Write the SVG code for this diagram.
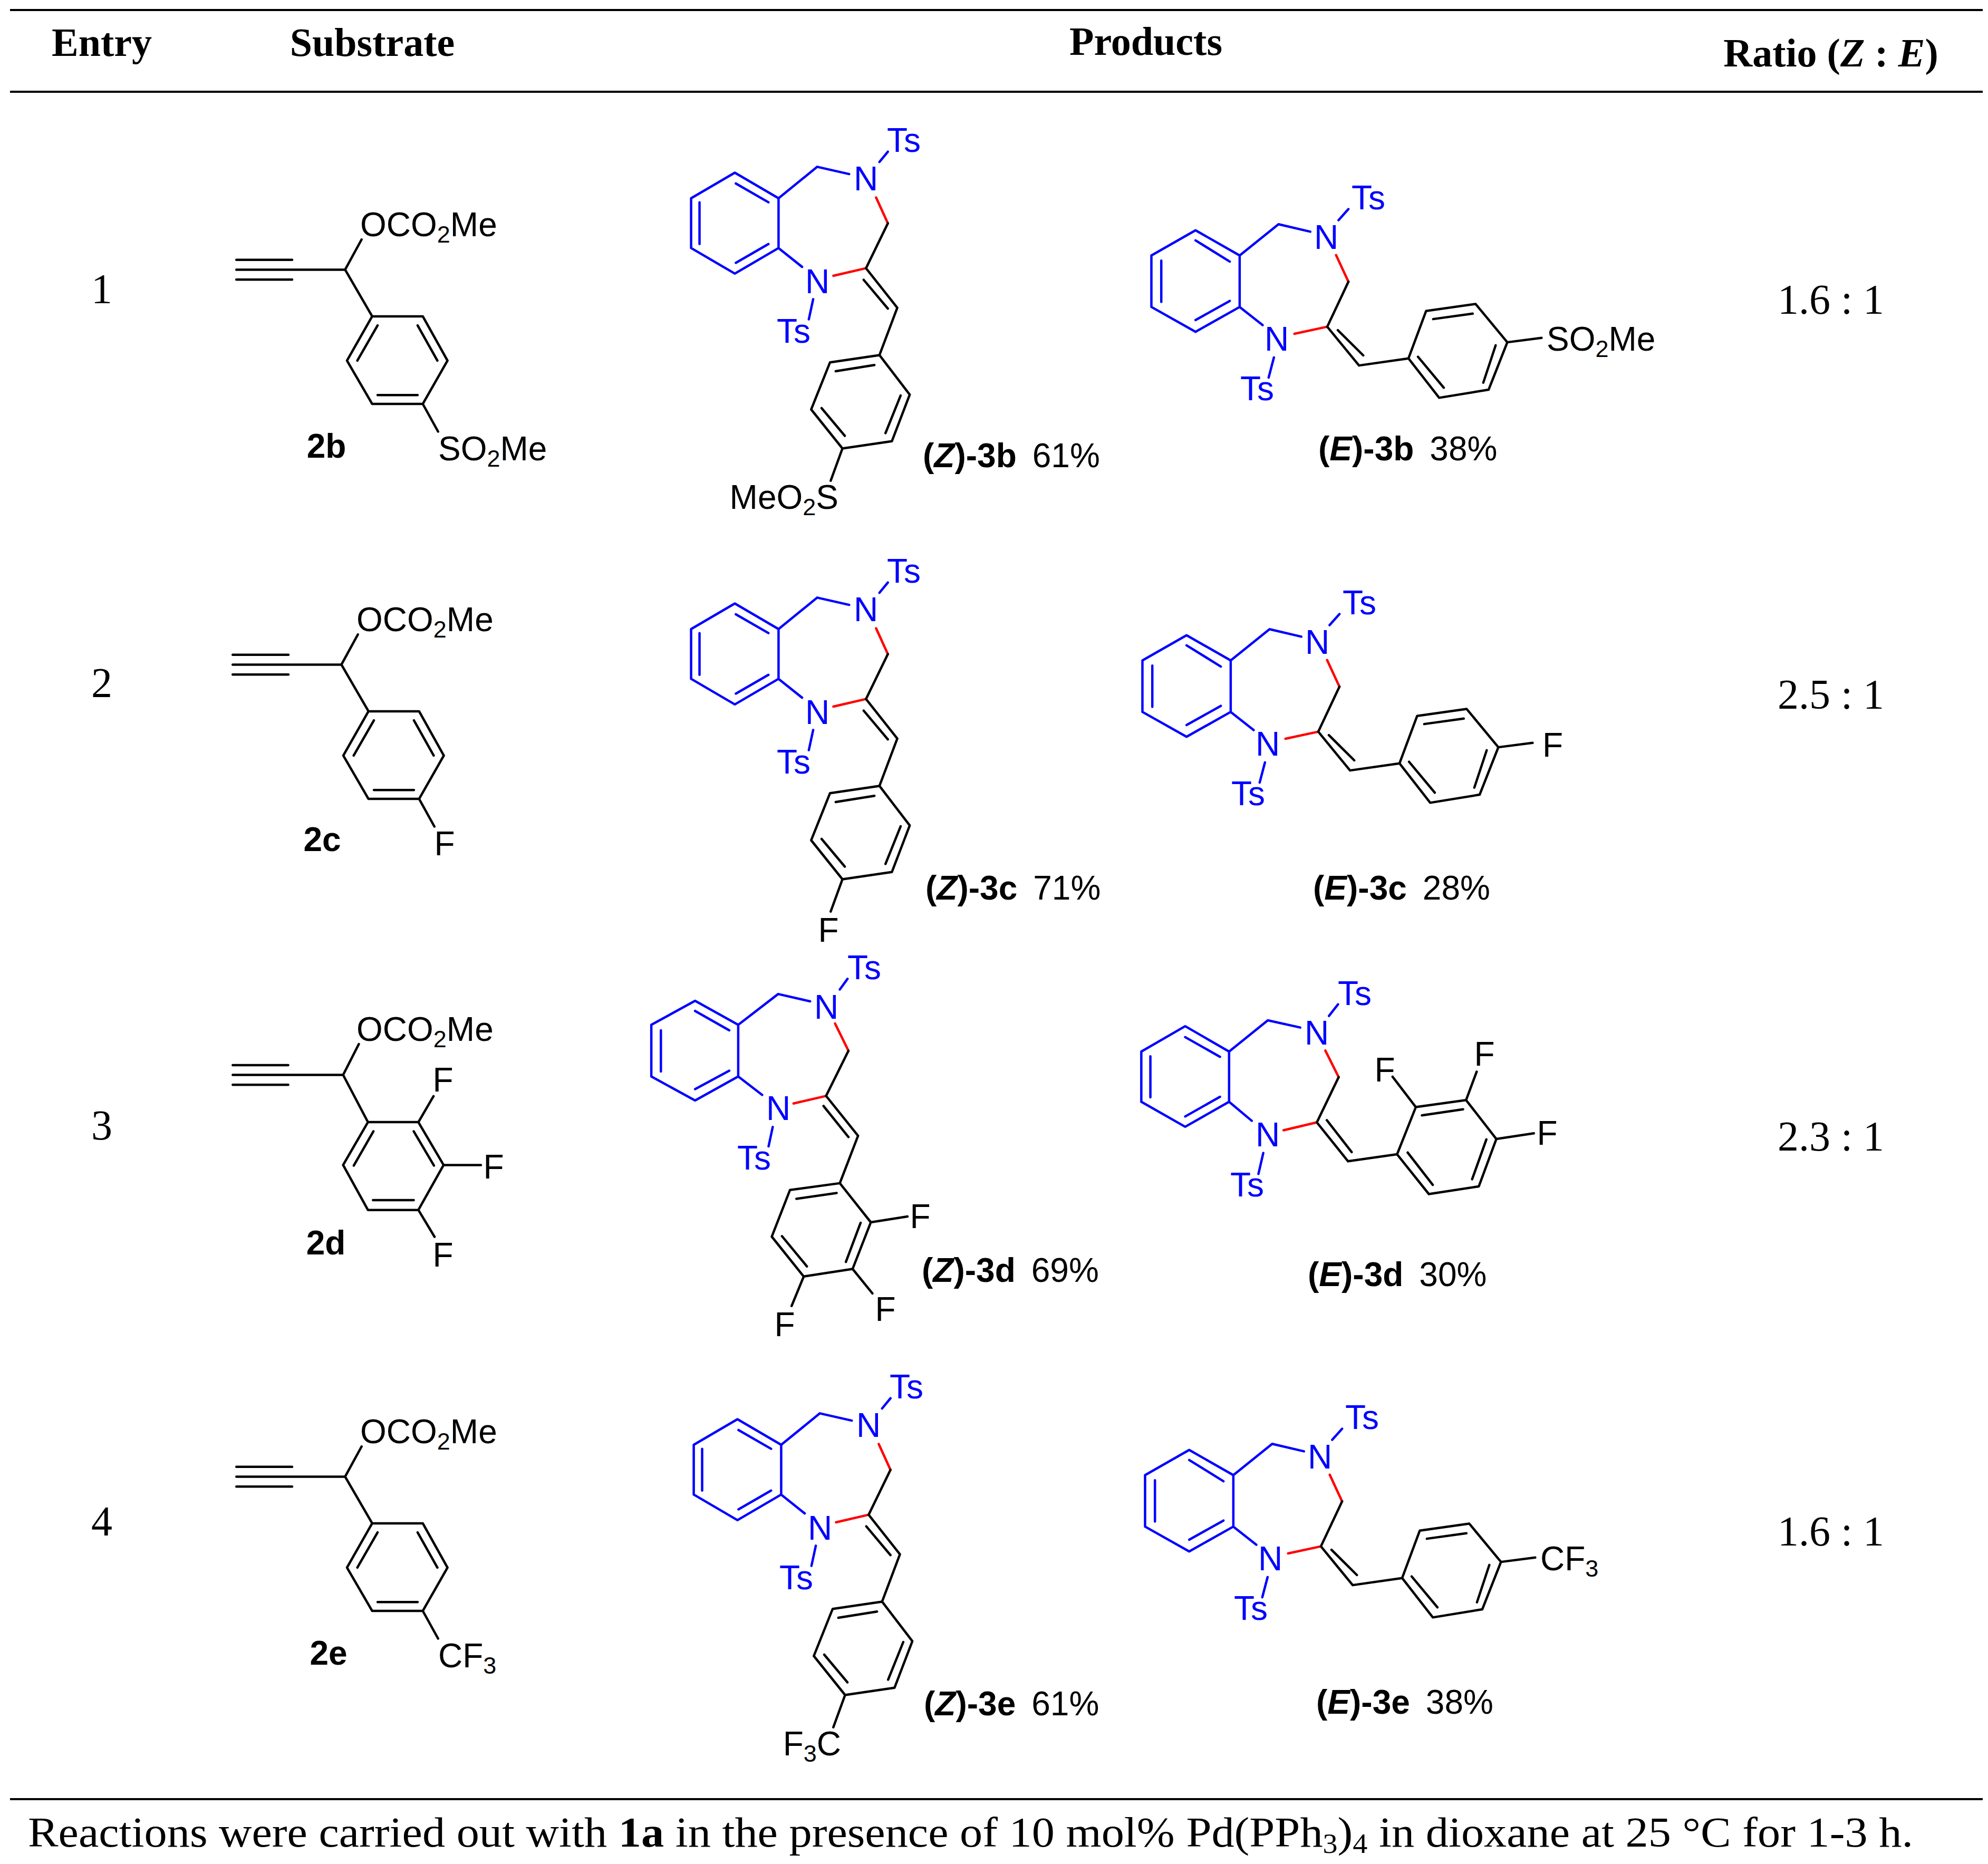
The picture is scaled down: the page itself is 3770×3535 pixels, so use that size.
<svg xmlns="http://www.w3.org/2000/svg" width="3770" height="3535" viewBox="0 0 3770 3535">
<style>
path{fill:none;stroke-width:4.5;vector-effect:non-scaling-stroke;stroke-linecap:round;stroke-linejoin:round}
.bl{stroke:#0000FF}.rd{stroke:#FF0000}.bk{stroke:#000}
.t{font-family:"Liberation Sans",Arial,sans-serif;font-size:64px;fill:#000}
.tb{font-family:"Liberation Sans",Arial,sans-serif;font-size:64px;fill:#0000FF}
.m{text-anchor:middle}.e{text-anchor:end}
.b{font-weight:bold}.bi{font-weight:bold;font-style:italic}
.s{font-family:"Liberation Serif","Times New Roman",serif;font-size:80px;fill:#000}
.h{font-family:"Liberation Serif","Times New Roman",serif;font-size:76px;font-weight:bold;fill:#000}
</style>
<defs>
<g id="zfr">
<path class="bl" d="M95,345 L225,250 L355,345 L355,530 L225,625 L95,530 Z M120,360 L120,515 M228,290 L325,360 M228,585 L325,515 M355,345 L470,228 L565,255 M655,210 L680,172 M355,530 L425,600 M458,720 L445,795"/>
<path class="rd" d="M645,342 L680,438 M518,633 L615,605"/>
<path class="bk" d="M680,438 L615,605 L708,752 M608,648 L680,755 M708,752 L655,928 M655,928 L745,1075 L692,1248 L545,1275 L452,1130 L508,955 Z M525,988 L640,965 M718,1078 L673,1218 M552,1228 L483,1125 M545,1275 L510,1395"/>
</g>
<g id="efr">
<path class="bl" d="M50,430 L175,305 L300,430 L300,685 L175,808 L50,685 Z M78,455 L78,660 M175,355 L272,460 M175,750 L272,655 M300,430 L410,275 L500,312 M580,255 L608,200 M300,685 L365,775 M397,935 L382,1035"/>
<path class="rd" d="M573,428 L608,560 M455,818 L548,783"/>
<path class="bk" d="M608,560 L548,783 L638,975 M578,800 L650,925 M638,975 L778,940 M778,940 L828,705 L968,670 L1058,860 L1005,1095 L865,1135 Z M848,745 L960,718 M1025,875 L990,1060 M878,1085 L805,932 M1058,860 L1155,838"/>
</g>
<g id="sfr">
<path class="bk" d="M108,400 L345,400 M108,452 L570,452 M108,505 L345,505 M570,452 L640,292 M570,452 L685,700 M685,700 L900,700 L1005,935 L900,1165 L685,1165 L578,935 Z M708,748 L622,935 M878,748 L962,935 M708,1118 L878,1118 M900,1165 L965,1312"/>
</g>
</defs>

<g id="table-rules">
<line x1="19" y1="19" x2="3760" y2="19" stroke="#000" stroke-width="4"/>
<line x1="19" y1="174" x2="3760" y2="174" stroke="#000" stroke-width="4"/>
<line x1="19" y1="3412" x2="3760" y2="3412" stroke="#000" stroke-width="4"/>
</g>

<g id="header">
<text class="h m" x="193" y="106">Entry</text>
<text class="h m" x="706" y="106">Substrate</text>
<text class="h m" x="2173" y="104">Products</text>
<text class="h m" x="3472" y="126">Ratio (<tspan font-style="italic">Z</tspan> : <tspan font-style="italic">E</tspan>)</text>
</g>

<g id="entry-numbers">
<text class="s m" x="193" y="575">1</text>
<text class="s m" x="193" y="1322">2</text>
<text class="s m" x="193" y="2161">3</text>
<text class="s m" x="193" y="2912">4</text>
</g>
<g id="ratios">
<text class="s m" x="3472" y="595">1.6 : 1</text>
<text class="s m" x="3472" y="1344">2.5 : 1</text>
<text class="s m" x="3472" y="2182">2.3 : 1</text>
<text class="s m" x="3472" y="2931">1.6 : 1</text>
</g>

<!-- Entry 1 -->
<g id="sub-2b">
<g transform="translate(400,350) scale(0.4464,0.3571)"><use href="#sfr"/></g>
<text class="t" x="683" y="448">OCO<tspan font-size="45" dy="12">2</tspan><tspan dy="-12">Me</tspan></text>
<text class="t b m" x="619" y="868">2b</text>
<text class="t" x="831" y="873">SO<tspan font-size="45" dy="12">2</tspan><tspan dy="-12">Me</tspan></text>
</g>
<g id="z-3b">
<g transform="translate(1250,200) scale(0.6378,0.5102)"><use href="#zfr"/></g>
<text class="tb m" x="1714" y="288">Ts</text>
<text class="tb m" x="1642" y="361">N</text>
<text class="tb m" x="1550" y="556">N</text>
<text class="tb m" x="1505" y="650">Ts</text>
<text class="t e" x="1590" y="965">MeO<tspan font-size="45" dy="12">2</tspan><tspan dy="-12">S</tspan></text>
<text class="t" x="1750" y="886"><tspan class="b">(</tspan><tspan class="bi">Z</tspan><tspan class="b">)-3b</tspan><tspan dx="30">61%</tspan></text>
</g>
<g id="e-3b">
<g transform="translate(2150,320) scale(0.6696,0.3827)"><use href="#efr"/></g>
<text class="tb m" x="2595" y="397">Ts</text>
<text class="tb m" x="2515" y="472">N</text>
<text class="tb m" x="2421" y="665">N</text>
<text class="tb m" x="2384" y="759">Ts</text>
<text class="t" x="2933" y="665">SO<tspan font-size="45" dy="12">2</tspan><tspan dy="-12">Me</tspan></text>
<text class="t" x="2500" y="873"><tspan class="b">(</tspan><tspan class="bi">E</tspan><tspan class="b">)-3b</tspan><tspan dx="30">38%</tspan></text>
</g>

<!-- Entry 2 -->
<g id="sub-2c">
<g transform="translate(-7,749) translate(400,350) scale(0.4464,0.3571)"><use href="#sfr"/></g>
<text class="t" x="676" y="1197">OCO<tspan font-size="45" dy="12">2</tspan><tspan dy="-12">Me</tspan></text>
<text class="t b m" x="611" y="1614">2c</text>
<text class="t m" x="843" y="1622">F</text>
</g>
<g id="z-3c">
<g transform="translate(0,817) translate(1250,200) scale(0.6378,0.5102)"><use href="#zfr"/></g>
<text class="tb m" x="1714" y="1105">Ts</text>
<text class="tb m" x="1642" y="1178">N</text>
<text class="tb m" x="1550" y="1373">N</text>
<text class="tb m" x="1505" y="1467">Ts</text>
<text class="t m" x="1571" y="1786">F</text>
<text class="t" x="1755" y="1706"><tspan class="b">(</tspan><tspan class="bi">Z</tspan><tspan class="b">)-3c</tspan><tspan dx="30">71%</tspan></text>
</g>
<g id="e-3c">
<g transform="translate(-17,768) translate(2150,320) scale(0.6696,0.3827)"><use href="#efr"/></g>
<text class="tb m" x="2578" y="1165">Ts</text>
<text class="tb m" x="2498" y="1240">N</text>
<text class="tb m" x="2404" y="1433">N</text>
<text class="tb m" x="2367" y="1527">Ts</text>
<text class="t" x="2925" y="1435">F</text>
<text class="t" x="2490" y="1706"><tspan class="b">(</tspan><tspan class="bi">E</tspan><tspan class="b">)-3c</tspan><tspan dx="30">28%</tspan></text>
</g>

<!-- Entry 3 -->
<g id="sub-2d">
<g transform="translate(400,1900) scale(0.3827,0.3508)">
<path class="bk" d="M108,342 L383,342 M108,395 L655,395 M108,448 L383,448 M655,395 L733,228 M655,395 L778,650 M778,650 L1028,650 L1153,882 L1028,1125 L778,1125 L655,882 Z M805,700 L708,885 M1005,700 L1105,885 M803,1072 L1005,1072 M1028,650 L1103,510 M1153,882 L1338,882 M1028,1125 L1108,1270"/>
</g>
<text class="t" x="676" y="1974">OCO<tspan font-size="45" dy="12">2</tspan><tspan dy="-12">Me</tspan></text>
<text class="t m" x="840" y="2070">F</text>
<text class="t m" x="936" y="2235">F</text>
<text class="t m" x="840" y="2402">F</text>
<text class="t b m" x="618" y="2379">2d</text>
</g>
<g id="z-3d">
<g transform="translate(1200,1800) scale(0.6059,0.4783)">
<path class="bl" d="M58,300 L195,205 L330,300 L330,505 L195,600 L58,505 Z M88,322 L88,485 M195,245 L302,322 M195,555 L302,482 M330,300 L455,178 L555,207 M648,160 L672,118 M330,505 L405,578 M438,705 L425,782"/>
<path class="rd" d="M633,295 L675,403 M503,612 L605,582"/>
<path class="bk" d="M675,403 L605,582 L705,740 M597,622 L675,745 M705,740 L648,928 M648,928 L745,1083 L688,1268 L535,1298 L435,1140 L492,955 Z M512,990 L638,967 M713,1085 L667,1240 M545,1258 L467,1138 M745,1083 L860,1060 M688,1268 L750,1365 M535,1298 L497,1415"/>
</g>
<text class="tb m" x="1639" y="1857">Ts</text>
<text class="tb m" x="1567" y="1932">N</text>
<text class="tb m" x="1476" y="2124">N</text>
<text class="tb m" x="1430" y="2218">Ts</text>
<text class="t m" x="1745" y="2329">F</text>
<text class="t m" x="1679" y="2505">F</text>
<text class="t m" x="1488" y="2534">F</text>
<text class="t" x="1748" y="2431"><tspan class="b">(</tspan><tspan class="bi">Z</tspan><tspan class="b">)-3d</tspan><tspan dx="30">69%</tspan></text>
</g>
<g id="e-3d">
<g transform="translate(2150,1850) scale(0.574,0.4145)">
<path class="bl" d="M25,348 L170,232 L315,348 L315,578 L170,692 L25,578 Z M55,370 L55,557 M170,282 L285,372 M170,645 L285,555 M315,348 L443,205 L550,238 M645,185 L675,132 M315,578 L390,665 M428,812 L412,908"/>
<path class="rd" d="M633,343 L677,465 M495,708 L605,672"/>
<path class="bk" d="M677,465 L605,672 L708,850 M638,662 L720,808 M708,850 L870,818 M870,818 L932,602 L1098,570 L1198,748 L1140,965 L975,1000 Z M952,640 L1088,612 M1165,750 L1118,932 M988,958 L905,810 M932,602 L855,463 M1098,570 L1133,440 M1198,748 L1322,722"/>
</g>
<text class="tb m" x="2569" y="1906">Ts</text>
<text class="tb m" x="2497" y="1981">N</text>
<text class="tb m" x="2404" y="2174">N</text>
<text class="tb m" x="2365" y="2269">Ts</text>
<text class="t m" x="2626" y="2051">F</text>
<text class="t m" x="2815" y="2021">F</text>
<text class="t m" x="2934" y="2171">F</text>
<text class="t" x="2480" y="2439"><tspan class="b">(</tspan><tspan class="bi">E</tspan><tspan class="b">)-3d</tspan><tspan dx="30">30%</tspan></text>
</g>

<!-- Entry 4 -->
<g id="sub-2e">
<g transform="translate(0,2289) translate(400,350) scale(0.4464,0.3571)"><use href="#sfr"/></g>
<text class="t" x="683" y="2737">OCO<tspan font-size="45" dy="12">2</tspan><tspan dy="-12">Me</tspan></text>
<text class="t b m" x="623" y="3157">2e</text>
<text class="t" x="831" y="3162">CF<tspan font-size="45" dy="12">3</tspan></text>
</g>
<g id="z-3e">
<g transform="translate(5,2364) translate(1250,200) scale(0.6378,0.5102)"><use href="#zfr"/></g>
<text class="tb m" x="1719" y="2652">Ts</text>
<text class="tb m" x="1647" y="2725">N</text>
<text class="tb m" x="1555" y="2920">N</text>
<text class="tb m" x="1510" y="3014">Ts</text>
<text class="t e" x="1595" y="3329">F<tspan font-size="45" dy="12">3</tspan><tspan dy="-12">C</tspan></text>
<text class="t" x="1752" y="3253"><tspan class="b">(</tspan><tspan class="bi">Z</tspan><tspan class="b">)-3e</tspan><tspan dx="30">61%</tspan></text>
</g>
<g id="e-3e">
<g transform="translate(-12,2313) translate(2150,320) scale(0.6696,0.3827)"><use href="#efr"/></g>
<text class="tb m" x="2583" y="2710">Ts</text>
<text class="tb m" x="2503" y="2785">N</text>
<text class="tb m" x="2409" y="2978">N</text>
<text class="tb m" x="2372" y="3072">Ts</text>
<text class="t" x="2921" y="2978">CF<tspan font-size="45" dy="12">3</tspan></text>
<text class="t" x="2496" y="3250"><tspan class="b">(</tspan><tspan class="bi">E</tspan><tspan class="b">)-3e</tspan><tspan dx="30">38%</tspan></text>
</g>

<g id="footer">
<text class="s" x="53" y="3502" font-size="75" textLength="3575" lengthAdjust="spacingAndGlyphs">Reactions were carried out with <tspan font-weight="bold">1a</tspan> in the presence of 10 mol% Pd(PPh<tspan font-size="52" dy="12">3</tspan><tspan dy="-12">)</tspan><tspan font-size="52" dy="12">4</tspan><tspan dy="-12"> in dioxane at 25 °C for 1-3 h.</tspan></text>
</g>
</svg>
